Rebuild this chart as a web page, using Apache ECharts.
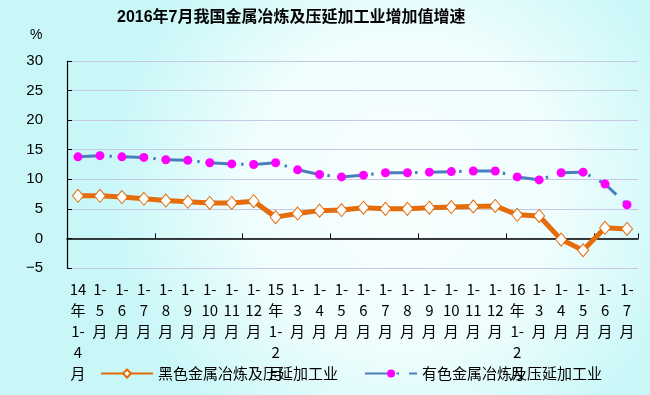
<!DOCTYPE html>
<html>
<head>
<meta charset="utf-8">
<script src="https://cdn.jsdelivr.net/npm/echarts@6/dist/echarts.min.js"></script>
<style>html,body{margin:0;padding:0;}#c{width:650px;height:395px;}</style>
</head>
<body>
<div id="c"></div>
<script>
const title = '2016年7月我国金属冶炼及压延加工业增加值增速';
const categories = ['14年1-4月','1-5月','1-6月','1-7月','1-8月','1-9月','1-10月','1-11月','1-12月',
  '15年1-2月','1-3月','1-4月','1-5月','1-6月','1-7月','1-8月','1-9月','1-10月','1-11月','1-12月',
  '16年1-2月','1-3月','1-4月','1-5月','1-6月','1-7月'];
const seriesNames = ['黑色金属冶炼及压延加工业','有色金属冶炼及压延加工业'];
const ferrous = [7.2,7.2,7.0,6.7,6.4,6.2,6.0,6.0,6.3,3.6,4.2,4.7,4.8,5.2,5.0,5.0,5.2,5.3,5.4,5.5,4.0,3.8,-0.2,-2.0,1.8,1.6];
const nonFerrous = [13.8,14.0,13.8,13.7,13.3,13.2,12.8,12.6,12.5,12.8,11.6,10.8,10.4,10.7,11.1,11.1,11.2,11.3,11.4,11.4,10.4,9.9,11.1,11.2,9.2,5.7];
const yTicks = {min:-5, max:30, interval:5};

const fontCJK = '"Noto Sans CJK SC", "Noto Sans", sans-serif';
const chart = echarts.init(document.getElementById('c'));

function splitLabel(v){
  let m = v.match(/^(\d+)年(1-)(\d+)月$/);
  if (m) return [m[1],'年',m[2],m[3],'月'].join('\n');
  m = v.match(/^(1-)(\d+)月$/);
  if (m) return [m[1],m[2],'月'].join('\n');
  return v;
}

chart.setOption({
  animation:false,
  backgroundColor:{type:'radial',x:0.62,y:0.48,r:0.75,colorStops:[
    {offset:0,color:'#FAFFFF'},{offset:0.55,color:'#EEFDFD'},{offset:1,color:'#C9F7F8'}]},
  title:{text:title,left:112,top:5,textStyle:{fontSize:16,fontWeight:'bold',color:'#000',fontFamily:'"Liberation Sans", "Noto Sans CJK SC", sans-serif'}},
  graphic:[{type:'text',left:30,top:28,style:{text:'%',fontSize:14,fill:'#000',fontFamily:'"Liberation Sans", sans-serif'}}],
  grid:{left:67,right:12,top:61,bottom:127,containLabel:false},
  legend:{
    left:100,top:366,padding:0,itemWidth:52,itemHeight:10,itemGap:26,
    textStyle:{fontSize:15,color:'#000',fontFamily:fontCJK},
    data:seriesNames
  },
  xAxis:[{
    type:'category',data:categories,position:'bottom',
    axisLine:{show:false,onZero:false},axisTick:{show:false},splitLine:{show:false},
    axisLabel:{interval:0,margin:11,fontSize:15,lineHeight:21,color:'#000',fontFamily:fontCJK,formatter:splitLabel}
  },{
    type:'category',data:categories,position:'bottom',
    axisLine:{show:true,onZero:true,lineStyle:{color:'#000',width:1.5}},
    axisTick:{show:true,inside:true,length:5,lineStyle:{color:'#000'}},
    axisLabel:{show:false},splitLine:{show:false}
  }],
  yAxis:{
    type:'value',min:yTicks.min,max:yTicks.max,interval:yTicks.interval,
    axisLine:{show:true,lineStyle:{color:'#000',width:1.2}},
    axisTick:{show:true,inside:true,length:5,lineStyle:{color:'#000'}},
    splitLine:{lineStyle:{color:'#C6C8E4',width:1}},
    axisLabel:{margin:24,fontSize:15,color:'#000',fontFamily:'"Liberation Sans", sans-serif',
      formatter:v=>String(v).replace('-','\u2212')}
  },
  series:[{
    name:seriesNames[0],type:'line',xAxisIndex:0,data:ferrous,
    lineStyle:{color:'#E46C0A',width:5},
    itemStyle:{color:'#FFFFFF',borderColor:'#E46C0A',borderWidth:1},
    symbol:'diamond',symbolSize:[11,13],z:3
  },{
    name:seriesNames[1],type:'line',xAxisIndex:0,data:nonFerrous,
    lineStyle:{color:'#4A7EBB',width:3,type:[22,9.5,2.5,10]},
    itemStyle:{color:'#FF00FF',borderWidth:0},
    symbol:'circle',symbolSize:9,z:4
  }]
});
</script>
</body>
</html>
